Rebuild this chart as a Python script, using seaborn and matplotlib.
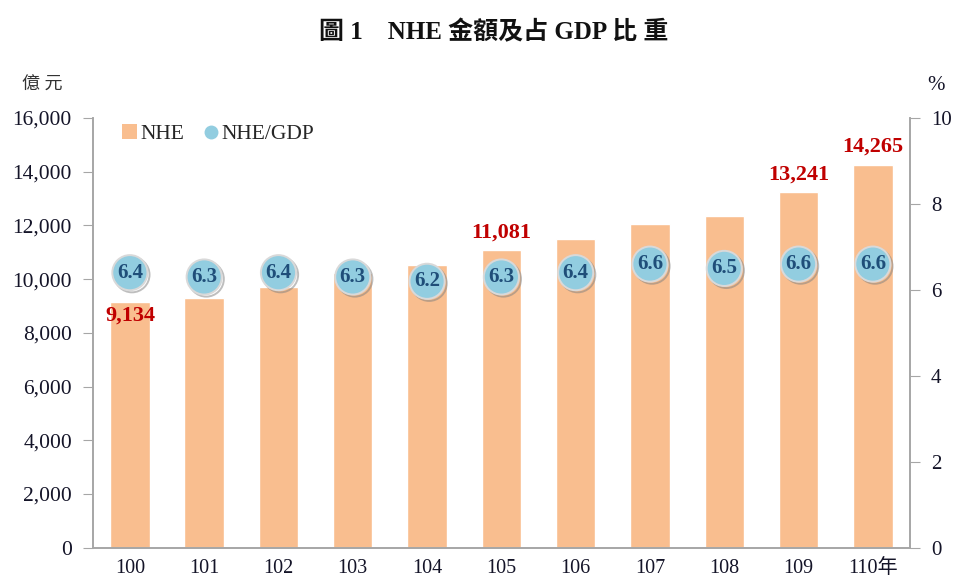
import matplotlib
matplotlib.use("Agg")
import matplotlib.pyplot as plt
import matplotlib.patheffects as pe
from matplotlib.lines import Line2D
from matplotlib.patches import Patch
import seaborn as sns
import numpy as np
import pandas as pd

years = ["100", "101", "102", "103", "104", "105", "106", "107", "108", "109", "110年"]
nhe = [9134, 9300, 9720, 10240, 10520, 11081, 11490, 12070, 12350, 13241, 14265]
ratio = [6.4, 6.3, 6.4, 6.3, 6.2, 6.3, 6.4, 6.6, 6.5, 6.6, 6.6]
labeled = ["100", "105", "109", "110年"]
left_ticks = [0, 2000, 4000, 6000, 8000, 10000, 12000, 14000, 16000]
right_ticks = [0, 2, 4, 6, 8, 10]

sns.set_style("white")
FAM = ["Liberation Serif", "Noto Sans CJK TC"]
plt.rcParams["font.family"] = FAM

BAR = "#f9be8f"
DOT = "#92cde0"
RED = "#c00000"
NAVY = "#1f4e79"
GREY = "#a6a6a6"
TXT = "#141428"

df = pd.DataFrame({"year": years, "nhe": nhe, "ratio": ratio})
df["pos"] = np.arange(len(df))

fig = plt.figure(figsize=(9.54, 5.79), dpi=100)
ax = fig.add_axes([0.0972, 0.0541, 0.8567, 0.7421])

sns.barplot(data=df, x="pos", y="nhe", color=BAR, width=0.53, ax=ax,
            saturation=1, native_scale=True)
ax.set_ylim(0, 16000)
ax.set_xlim(-0.5, len(df) - 0.5)
ax.set_yticks(left_ticks)
ax.set_yticklabels([f"{v:,}" for v in left_ticks], fontsize=15.5, color=TXT)
ax.set_xticks(np.arange(len(df) + 1) - 0.5)
ax.set_xticklabels([])
ax.set_xticks(df["pos"], minor=True)
ax.set_xticklabels(years, minor=True, fontsize=14.5, color=TXT)
ax.tick_params(axis="x", which="major", length=6, color=GREY, direction="out")
ax.tick_params(axis="x", which="minor", length=0, pad=8)
ax.tick_params(axis="y", length=7, color=GREY, direction="out", pad=8)
ax.set_xlabel("")
ax.set_ylabel("")
for s in ["left", "bottom", "right"]:
    ax.spines[s].set_color(GREY)
    ax.spines[s].set_linewidth(1.2)
ax.spines["top"].set_visible(False)

# value labels on bars
for _, r in df.iterrows():
    if r["year"] in labeled:
        if r["year"] == "100":
            ax.text(r["pos"], r["nhe"] - 120, f"{r['nhe']:,}", ha="center", va="top",
                    color=RED, fontsize=16, fontweight="bold")
        else:
            ax.text(r["pos"], r["nhe"] + 280, f"{r['nhe']:,}", ha="center", va="bottom",
                    color=RED, fontsize=16, fontweight="bold")

ax2 = ax.twinx()
ax2.set_position(ax.get_position())
sns.scatterplot(data=df, x="pos", y="ratio", ax=ax2, s=640, color=DOT,
                edgecolor="#d9d9d9", linewidth=1.4, zorder=3, legend=False)
coll = ax2.collections[-1]
coll.set_path_effects([pe.SimpleLineShadow(offset=(1.5, -1.5), shadow_color="#7f7f7f", alpha=0.5),
                       pe.Normal()])
for _, r in df.iterrows():
    ax2.text(r["pos"], r["ratio"], f"{r['ratio']:.1f}", ha="center", va="center",
             color=NAVY, fontsize=15, fontweight="bold", zorder=4)
ax2.set_ylim(0, 10)
ax2.set_yticks(right_ticks)
ax2.set_yticklabels([str(v) for v in right_ticks], fontsize=15, color=TXT)
ax2.tick_params(axis="y", length=7, color=GREY, direction="out", pad=8)
ax2.set_ylabel("")
ax2.set_xlabel("")
for s in ["left", "bottom", "right"]:
    ax2.spines[s].set_color(GREY)
    ax2.spines[s].set_linewidth(1.2)
ax2.spines["top"].set_visible(False)
ax2.set_xlim(-0.5, len(df) - 0.5)

handles = [Patch(facecolor=BAR, edgecolor="none"),
           Line2D([], [], marker="o", linestyle="none", markerfacecolor=DOT,
                  markeredgecolor="none", markersize=10)]
leg = ax.legend(handles, ["NHE", "NHE/GDP"], loc="center left", bbox_to_anchor=(0.012, 0.962),
                ncol=2, frameon=False, fontsize=15.5, handlelength=0.7, handletextpad=0.15,
                columnspacing=0.9, handleheight=0.7)

fig.text(0.518, 0.945, "圖 1　NHE 金額及占 GDP 比 重", ha="center", va="center",
         fontsize=18, fontweight="bold", color="#111111")
fig.text(0.044, 0.853, "億 元", ha="center", va="center", fontsize=13, color="#333333")
fig.text(0.981, 0.853, "%", ha="center", va="center", fontsize=15, color=TXT)

fig.savefig("out.png", dpi=100)
